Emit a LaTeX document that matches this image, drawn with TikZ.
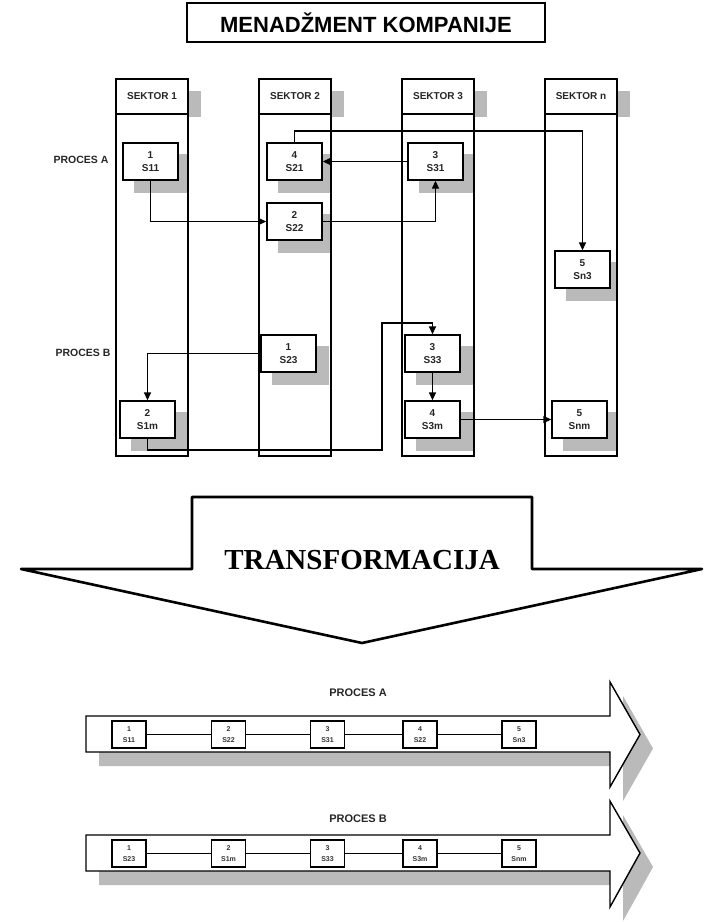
\documentclass[tikz,border=0pt]{standalone}
\usepackage{fontspec}
\setmainfont{Liberation Sans}
\newfontfamily\tms{Liberation Serif}
\usetikzlibrary{arrows.meta,calc}
\pgfdeclarelayer{bg}
\pgfsetlayers{bg,main}
\begin{document}
\begin{tikzpicture}[x=1pt,y=-1pt,
  shade/.style={fill=black!27},
  colhead/.style={draw,fill=white,line width=1.8pt,outer sep=0pt,minimum width=72pt,minimum height=35pt,inner sep=0pt,
    font=\fontsize{10}{12}\selectfont\bfseries,text=black!85},
  colbody/.style={draw,line width=1.8pt,outer sep=0pt,minimum width=72pt,minimum height=342pt,inner sep=0pt,anchor=north},
  pbox/.style={draw,fill=white,line width=1.3pt,minimum width=55pt,minimum height=37pt,inner sep=0pt,
    align=center,font=\fontsize{10}{13}\selectfont\bfseries,text=black!85},
  sbox/.style={draw,fill=white,line width=1.2pt,minimum width=34pt,minimum height=27pt,inner sep=0pt,
    align=center,font=\fontsize{7}{11}\selectfont\bfseries,text=black!80},
  conn/.style={line width=1.3pt,-{Triangle[length=8pt,width=7pt]}},
  plain/.style={line width=1pt},
  lbl/.style={font=\fontsize{10.5}{12}\selectfont\bfseries,text=black!85,inner sep=0pt},
  bigarrow/.style={draw,fill=white,line width=1.4pt,line join=miter}
]
\useasboundingbox (0,0) rectangle (718,922);

% title
\node[draw,line width=2pt,minimum width=358pt,minimum height=39pt,inner sep=0pt,
  font=\fontsize{22}{26}\selectfont\bfseries] (title) at (366,22.5) {MENADŽMENT KOMPANIJE};

% column headers and bodies
\node[colhead] (h1) at (152,96.5) {SEKTOR 1};
\node[colhead] (h2) at (295,96.5) {SEKTOR 2};
\node[colhead] (h3) at (438,96.5) {SEKTOR 3};
\node[colhead] (h4) at (581,96.5) {SEKTOR n};
\node[colbody] (c1) at (h1.south) {};
\node[colbody] (c2) at (h2.south) {};
\node[colbody] (c3) at (h3.south) {};
\node[colbody] (c4) at (h4.south) {};

% process boxes
\node[pbox] (s11) at (150.5,161.5) {1\\S11};
\node[pbox] (s21) at (294.5,161.5) {4\\S21};
\node[pbox] (s22) at (294.5,221.5) {2\\S22};
\node[pbox] (s31) at (435.5,161.5) {3\\S31};
\node[pbox] (sn3) at (582.5,269.5) {5\\Sn3};
\node[pbox] (s23) at (288.5,353.5) {1\\S23};
\node[pbox] (s1m) at (147.5,419.5) {2\\S1m};
\node[pbox] (s33) at (432.5,353.5) {3\\S33};
\node[pbox] (s3m) at (432.5,419.5) {4\\S3m};
\node[pbox] (snm) at (579.5,419.5) {5\\Snm};

\node[lbl] (pa) at (81,160) {PROCES A};
\node[lbl] (pb) at (83,353) {PROCES B};

% shadows
\begin{pgfonlayer}{bg}
  \foreach \h in {h1,h2,h3,h4}{
    \fill[shade] ($(\h.north west)+(13,12)$) rectangle ($(\h.south east)+(13,0)$);
    \fill[shade] (\h.south east) rectangle ($(\h.south east)+(13,3)$);
  }
  \begin{scope}
    \clip (c1.north west) rectangle (c1.south east);
    \foreach \b in {s11,s1m}{\fill[shade] ($(\b.north west)+(12,12)$) rectangle ($(\b.south east)+(12,12)$);}
  \end{scope}
  \begin{scope}
    \clip (c2.north west) rectangle (c2.south east);
    \foreach \b in {s21,s22,s23}{\fill[shade] ($(\b.north west)+(12,12)$) rectangle ($(\b.south east)+(12,12)$);}
  \end{scope}
  \begin{scope}
    \clip (c3.north west) rectangle (c3.south east);
    \foreach \b in {s31,s33,s3m}{\fill[shade] ($(\b.north west)+(12,12)$) rectangle ($(\b.south east)+(12,12)$);}
  \end{scope}
  \begin{scope}
    \clip (c4.north west) rectangle (c4.south east);
    \foreach \b in {sn3,snm}{\fill[shade] ($(\b.north west)+(12,12)$) rectangle ($(\b.south east)+(12,12)$);}
  \end{scope}
\end{pgfonlayer}

% connectors process A
\draw[conn] (s11.south) |- (s22.west);
\draw[conn] (s22.east) -| (s31.south);
\draw[conn] (s31.west) -- (s21.east);
\coordinate (a1) at (294.5,131);
\draw[conn] (s21.north) -- (a1) -| (sn3.north);
% connectors process B
\draw[conn] (s23.west) -| (s1m.north);
\coordinate (b1) at (382,450);
\coordinate (b2) at (382,323);
\draw[conn] (s1m.south) |- (b1) -- (b2) -| (s33.north);
\draw[conn] (s33.south) -- (s3m.north);
\draw[conn] (s3m.east) -- (snm.west);

% big transformation arrow
\draw[line width=2.6pt,line join=round,fill=white]
  (21,569) -- (192,569) -- (192,497) -- (532,497) -- (532,569) -- (702,569) -- (362,643) -- cycle;
\node[font=\tms\fontsize{29}{32}\selectfont\bfseries,inner sep=0pt] (tr) at (362,560) {TRANSFORMACIJA};

% bottom arrow A
\fill[shade] (99,730) -- (623,730) -- (623,696) -- (653,748.5) -- (623,801) -- (623,766) -- (99,766) -- cycle;
\draw[bigarrow] (86,716) -- (610,716) -- (610,682) -- (640,734.5) -- (610,787) -- (610,752) -- (86,752) -- cycle;
\node[lbl,font=\fontsize{11}{12}\selectfont\bfseries] (ta) at (358,693) {PROCES A};
\node[sbox] (a11) at (129,734.5) {1\\S11};
\node[sbox] (a22) at (228.5,734.5) {2\\S22};
\node[sbox] (a31) at (327.5,734.5) {3\\S31};
\node[sbox] (a42) at (420,734.5) {4\\S22};
\node[sbox] (an3) at (519,734.5) {5\\Sn3};
\draw[plain] (a11) -- (a22);
\draw[plain] (a22) -- (a31);
\draw[plain] (a31) -- (a42);
\draw[plain] (a42) -- (an3);

% bottom arrow B
\fill[shade] (99,849) -- (623,849) -- (623,815) -- (653,867) -- (623,921) -- (623,885) -- (99,885) -- cycle;
\draw[bigarrow] (86,835) -- (610,835) -- (610,801) -- (640,853) -- (610,907) -- (610,871) -- (86,871) -- cycle;
\node[lbl,font=\fontsize{11}{12}\selectfont\bfseries] (tb) at (358,819) {PROCES B};
\node[sbox] (b23) at (129,853.5) {1\\S23};
\node[sbox] (b1m) at (228.5,853.5) {2\\S1m};
\node[sbox] (b33) at (327.5,853.5) {3\\S33};
\node[sbox] (b3m) at (420,853.5) {4\\S3m};
\node[sbox] (bnm) at (519,853.5) {5\\Snm};
\draw[plain] (b23) -- (b1m);
\draw[plain] (b1m) -- (b33);
\draw[plain] (b33) -- (b3m);
\draw[plain] (b3m) -- (bnm);
\end{tikzpicture}
\end{document}
